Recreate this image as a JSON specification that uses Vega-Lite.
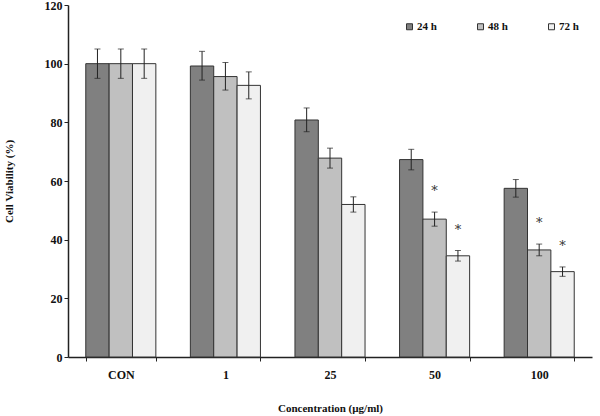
{
  "$schema": "https://vega.github.io/schema/vega-lite/v6.json",
  "width": 524,
  "height": 352,
  "autosize": {"type": "none"},
  "padding": {"left": 68, "top": 5, "right": 8, "bottom": 59},
  "background": "white",
  "config": {
    "view": {"stroke": null},
    "font": "Liberation Serif",
    "axis": {"labelFont": "Liberation Serif", "titleFont": "Liberation Serif", "labelFontWeight": "bold", "titleFontWeight": "bold", "labelColor": "#111", "titleColor": "#111", "domainColor": "#222", "tickColor": "#222", "grid": false}
  },
  "data": {"values": [
    {"conc": "CON", "time": "24 h", "mean": 100, "lo": 95, "hi": 105, "sig": ""},
    {"conc": "CON", "time": "48 h", "mean": 100, "lo": 95, "hi": 105, "sig": ""},
    {"conc": "CON", "time": "72 h", "mean": 100, "lo": 95, "hi": 105, "sig": ""},
    {"conc": "1", "time": "24 h", "mean": 99.2, "lo": 94.4, "hi": 104.2, "sig": ""},
    {"conc": "1", "time": "48 h", "mean": 95.6, "lo": 91, "hi": 100.4, "sig": ""},
    {"conc": "1", "time": "72 h", "mean": 92.6, "lo": 88, "hi": 97.2, "sig": ""},
    {"conc": "25", "time": "24 h", "mean": 80.8, "lo": 76.8, "hi": 84.9, "sig": ""},
    {"conc": "25", "time": "48 h", "mean": 67.8, "lo": 64.4, "hi": 71.2, "sig": ""},
    {"conc": "25", "time": "72 h", "mean": 52, "lo": 49.4, "hi": 54.6, "sig": ""},
    {"conc": "50", "time": "24 h", "mean": 67.3, "lo": 63.8, "hi": 70.8, "sig": ""},
    {"conc": "50", "time": "48 h", "mean": 47, "lo": 44.6, "hi": 49.4, "sig": "*"},
    {"conc": "50", "time": "72 h", "mean": 34.5, "lo": 32.7, "hi": 36.3, "sig": "*"},
    {"conc": "100", "time": "24 h", "mean": 57.5, "lo": 54.5, "hi": 60.5, "sig": ""},
    {"conc": "100", "time": "48 h", "mean": 36.5, "lo": 34.5, "hi": 38.5, "sig": "*"},
    {"conc": "100", "time": "72 h", "mean": 29.1, "lo": 27.5, "hi": 30.7, "sig": "*"}
  ]},
  "encoding": {
    "x": {"field": "conc", "type": "nominal", "sort": ["CON", "1", "25", "50", "100"],
      "scale": {"paddingInner": 0.33, "paddingOuter": 0.17},
      "axis": {"title": "Concentration  (\u00b5g/ml)", "labelAngle": 0, "labelFontSize": 12, "titleFontSize": 11, "labelPadding": 8, "titlePadding": 22, "tickBand": "extent", "tickSize": 4, "domainWidth": 1.5}},
    "xOffset": {"field": "time", "type": "nominal", "sort": ["24 h", "48 h", "72 h"]}
  },
  "layer": [
    {
      "mark": {"type": "bar", "stroke": "#333", "strokeWidth": 1},
      "encoding": {
        "y": {"field": "mean", "type": "quantitative", "scale": {"domain": [0, 120]},
          "axis": {"title": "Cell Viability (%)", "values": [0, 20, 40, 60, 80, 100, 120], "labelFontSize": 12, "titleFontSize": 11, "titlePadding": 30, "tickSize": 4, "domainWidth": 1.5}},
        "fill": {"field": "time", "type": "nominal", "sort": ["24 h", "48 h", "72 h"],
          "scale": {"range": ["#808080", "#c0c0c0", "#f0f0f0"]},
          "legend": {"title": null, "orient": "none", "legendX": 336, "legendY": 16, "direction": "horizontal", "symbolType": "square", "symbolSize": 36, "symbolStrokeColor": "#333", "symbolStrokeWidth": 1, "labelFontSize": 11, "labelFontWeight": "bold", "labelFont": "Liberation Serif", "labelColor": "#111", "columnPadding": 38, "labelOffset": 2}}
      }
    },
    {
      "mark": {"type": "rule", "color": "#222", "strokeWidth": 1},
      "encoding": {"y": {"field": "lo", "type": "quantitative"}, "y2": {"field": "hi"}}
    },
    {
      "mark": {"type": "tick", "color": "#222", "size": 6, "thickness": 1},
      "encoding": {"y": {"field": "lo", "type": "quantitative"}}
    },
    {
      "mark": {"type": "tick", "color": "#222", "size": 6, "thickness": 1},
      "encoding": {"y": {"field": "hi", "type": "quantitative"}}
    },
    {
      "mark": {"type": "text", "font": "DejaVu Serif", "fontSize": 13, "fontWeight": "normal", "color": "#333", "baseline": "middle", "dy": -21},
      "encoding": {"y": {"field": "hi", "type": "quantitative"}, "text": {"field": "sig"}}
    }
  ]
}
